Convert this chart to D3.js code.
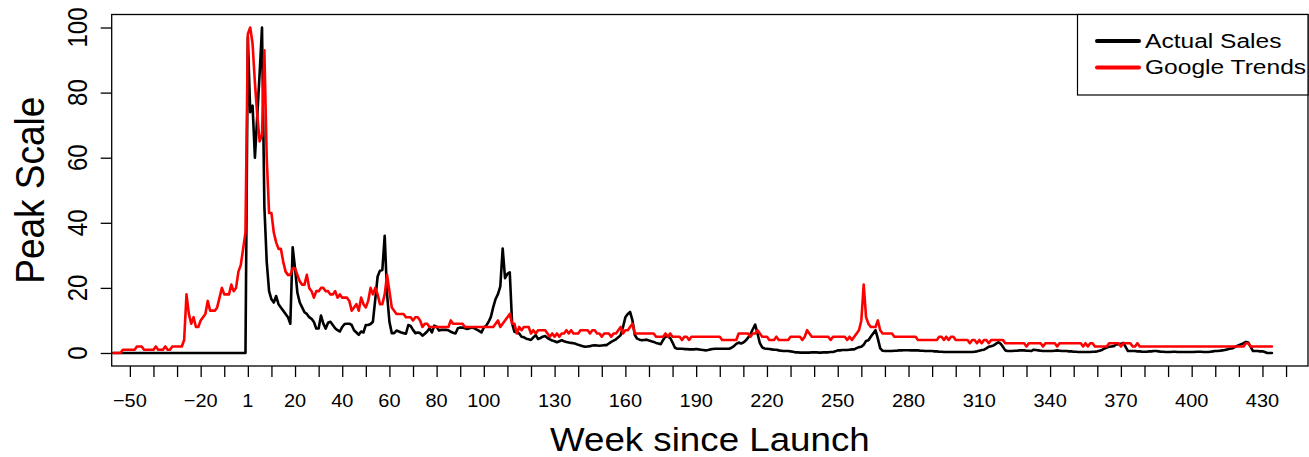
<!DOCTYPE html>
<html>
<head>
<meta charset="utf-8">
<script src="https://cdn.jsdelivr.net/npm/d3@7"></script>
<style>
html, body { margin: 0; padding: 0; background: #ffffff; }
svg { display: block; }
</style>
</head>
<body>
<svg id="chart" width="1309" height="457"></svg>
<script>
// ---------------- data ----------------
const firstWeek = -57;   // week of the first value in each series

const actualSales = [
  0,0,0,0,0,0,0,
  0,0,0,0,0,0,0,0,0,0,
  0,0,0,0,0,0,0,0,0,0,
  0,0,0,0,0,0,0,0,0,0,
  0,0,0,0,0,0,0,0,0,0,
  0,0,0,0,0,0,0,0,0,0,
  97,74,76,60,73,86,100,45,28,19,
  16.5,15.5,17.5,15,14,13,12,11,9,32.5,
  26,18.5,15.5,14,12.5,12,11,10.5,9.5,7.5,
  7.5,11.5,9,7.5,9.3,9.6,8.6,7.6,7,6.6,
  8,8.9,9,9,8.6,7,6.3,5.6,6.6,6.3,
  8.6,8.6,8.9,9.6,16.5,23.5,25.3,25.5,36,18,
  9.6,6.1,6.1,6.9,6.6,6.3,6.1,5.9,8.6,8.3,
  7.1,6.1,6.3,6.1,5.3,5.9,6.6,7.6,6.3,8.4,
  8.1,6.9,7.1,7.1,7.1,7,6.5,6.2,6,7.6,
  7.8,7.8,7.6,7.4,7.6,7.8,7.6,7.2,6.8,6.3,
  7.8,8.4,9.5,11.1,14.1,16.6,18.1,20.5,32.1,23,
  24.3,24.8,9,6.5,6.3,6,5,4.8,4.4,4.2,
  4,4.8,5.5,4.3,4.6,5,5.2,4.6,4.2,3.8,
  3.6,3.3,3.6,3.9,3.6,3.4,3.2,3.1,3,2.8,
  2.5,2.3,2.1,1.9,2,2.1,2.3,2.4,2.3,2.2,
  2.3,2.4,2.4,2.9,3.4,3.8,4.2,4.8,5.5,8,
  11,12,12.6,10,5.5,4.4,4.1,3.9,4,4.1,
  3.8,3.6,3.4,3.1,2.9,2.7,4,5.1,5,4.6,
  3.2,1.6,1.3,1.3,1.3,1.2,1.2,1.1,1.1,1.1,
  1.2,1.1,1,0.9,0.8,0.9,1.1,1.2,1.3,1.3,
  1.3,1.3,1.3,1.3,1.3,1.6,2.1,2.8,3.2,2.9,
  3.2,3.8,4.7,5.8,7.3,8.7,6,3,1.7,1.4,
  1.3,1.2,1.1,1,1,0.8,0.7,0.6,0.6,0.6,
  0.5,0.4,0.2,0.2,0.1,0.1,0.1,0.1,0.1,0.2,
  0.2,0.2,0.1,0.1,0.2,0.2,0.2,0.3,0.3,0.5,
  0.8,0.8,0.9,0.9,0.9,1,1.1,1.1,1.5,1.8,
  1.9,2.5,3.7,3.9,5,6,7,4.4,1.4,0.7,
  0.6,0.6,0.6,0.6,0.7,0.7,0.8,0.8,0.85,0.85,
  0.85,0.8,0.8,0.8,0.8,0.7,0.7,0.6,0.6,0.6,
  0.6,0.5,0.5,0.4,0.4,0.3,0.3,0.3,0.3,0.3,
  0.3,0.3,0.3,0.3,0.3,0.3,0.3,0.3,0.4,0.5,
  0.7,0.9,1,1.4,1.9,2.1,2.3,2.8,3.3,2.9,
  1.9,0.8,0.6,0.6,0.6,0.7,0.7,0.8,0.8,0.8,
  0.7,0.7,0.6,1,0.9,0.8,0.7,0.6,0.6,0.6,
  0.6,0.6,0.7,0.8,0.7,0.6,0.6,0.6,0.5,0.5,
  0.4,0.4,0.3,0.3,0.3,0.3,0.3,0.3,0.4,0.4,
  0.5,0.7,0.9,1.4,1.7,1.9,2,2.1,2.6,2.7,
  2.8,3.1,1.9,0.6,0.6,0.6,0.6,0.5,0.5,0.4,
  0.4,0.4,0.5,0.5,0.6,0.6,0.5,0.4,0.4,0.3,
  0.3,0.3,0.4,0.4,0.3,0.3,0.3,0.3,0.3,0.3,
  0.3,0.3,0.4,0.4,0.4,0.3,0.3,0.3,0.4,0.5,
  0.6,0.6,0.7,0.8,0.9,1.1,1.3,1.4,1.7,2.1,
  2.4,2.7,3,3.4,3.2,1.9,0.6,0.6,0.6,0.5,
  0.5,0.3,0,0,0
];

const googleTrends = [
  0,0,0,0,1,1,1,
  1,1,1,2,2,2,1,1,1,1,
  1,2,1,1,1,2,1,1,2,2,
  2,2,2,4,18,12,9,11,8,8,
  10,11,12,16,13,13,13,14,17,20,
  18,18,18,21,19,20,25,27,32,37,
  98,100,95,83,73,65,67,93,60,43,
  43,37,34,32,32,28,25,24,24,26,
  26,24,22,21,21,24,20,19,17,19,
  19,20,20,19,19,18,18,19,17,18,
  17,17,17,16,13,14,15,13,17,15,
  14,16,20,18,20,18,15,15,18,24,
  19,14,13,12,12,12,12,11,11,11,
  10,11,11,10,8,9,9,8,8,8,
  8,8,8,8,8,8,10,9,9,9,
  9,9,8,8,8,8,8,8,8,8,
  8,8,8,8,8,9,10,8,9,10,
  11,12,9,9,6,8,7,8,8,8,
  6,7,6,7,7,7,7,6,5,6,
  5,6,5,6,6,7,6,7,6,6,
  6,7,7,7,7,6,7,7,6,6,
  5,6,6,6,5,6,6,7,8,6,
  7,7,8,9,6,6,6,6,6,6,
  6,6,6,5,5,5,5,6,5,6,
  5,5,5,5,4,5,5,4,5,5,
  5,5,5,5,5,5,5,5,5,5,
  5,4,4,4,4,4,4,4,6,6,
  6,6,6,5,6,6,7,6,5,5,
  5,4,4,4,5,4,4,4,4,4,
  5,5,5,5,5,4,5,7,6,5,
  5,5,5,5,5,5,5,4,5,5,
  5,5,5,5,4,5,4,5,6,7,
  10,21,11,9,8,8,8,10,7,6,
  6,6,6,6,5,5,5,5,5,5,
  5,5,5,5,4,4,4,4,4,4,
  4,4,4,5,5,4,5,4,5,5,
  4,4,4,4,4,4,3,4,4,3,
  4,3,4,4,3,4,4,4,4,4,
  4,3,3,3,3,3,3,3,3,3,
  2,3,3,3,3,3,3,2,3,3,
  3,3,3,2,3,3,3,3,3,3,
  3,3,3,3,2,3,2,3,3,2,
  2,2,2,2,2,3,3,3,3,3,
  2,3,3,3,3,2,2,3,2,2,
  2,2,2,2,2,2,2,2,2,2,
  2,2,2,2,2,2,2,2,2,2,
  2,2,2,2,2,2,2,2,2,2,
  2,2,2,2,2,2,2,2,2,2,
  2,2,2,3,3,2,2,2,2,2,
  2,2,2,2,2
];

const xTickWeeks = [-50,-40,-30,-20,-10,0,10,20,30,40,50,60,70,80,90,100,110,120,130,140,150,160,170,180,190,200,210,220,230,240,250,260,270,280,290,300,310,320,330,340,350,360,370,380,390,400,410,420,430,440];
const xLabelWeeks = [-50,-20,0,20,40,60,80,100,130,160,190,220,250,280,310,340,370,400,430];
const xLabelTexts = ["\u221250","\u221220","1","20","40","60","80","100","130","160","190","220","250","280","310","340","370","400","430"];
const yTickValues = [0,20,40,60,80,100];
const seriesNames = ["Actual Sales","Google Trends"];
const seriesColors = ["#000000","#ff0000"];
const xTitle = "Week since Launch";
const yTitle = "Peak Scale";

// ---------------- drawing ----------------
const svg = d3.select("#chart");
const FONT = "'Liberation Sans', Arial, Helvetica, sans-serif";
svg.append("rect").attr("width",1309).attr("height",457).attr("fill","#ffffff");

const plot = {left:111.7, right:1308, top:14.5, bottom:366};
const x = d3.scaleLinear().domain([-57.7, 449.3]).range([plot.left, plot.right]);
const y = d3.scaleLinear().domain([-4, 104]).range([plot.bottom, plot.top]);

// series
const line = d3.line()
  .x((d,i) => x(firstWeek + i))
  .y(d => y(d));

svg.append("path").datum(actualSales)
  .attr("d", line).attr("fill","none")
  .attr("stroke", seriesColors[0]).attr("stroke-width",2.6)
  .attr("stroke-linejoin","round").attr("stroke-linecap","round");
svg.append("path").datum(googleTrends)
  .attr("d", line).attr("fill","none")
  .attr("stroke", seriesColors[1]).attr("stroke-width",2.6)
  .attr("stroke-linejoin","round").attr("stroke-linecap","round");

// plot box
svg.append("rect")
  .attr("x", plot.left).attr("y", plot.top)
  .attr("width", plot.right - plot.left).attr("height", plot.bottom - plot.top)
  .attr("fill","none").attr("stroke","#000").attr("stroke-width",1.3);

// x axis ticks
const xAxis = d3.axisBottom(x).tickValues(xTickWeeks).tickSize(11).tickFormat("");
const gx = svg.append("g").attr("transform", `translate(0,${plot.bottom})`).call(xAxis);
gx.select(".domain").remove();
gx.selectAll(".tick line").attr("stroke","#000").attr("stroke-width",1.3);

svg.append("g").selectAll("text")
  .data(xLabelWeeks)
  .join("text")
  .attr("transform", d => `translate(${x(d)},407) scale(1.05,1)`)
  .attr("text-anchor","middle")
  .attr("font-family", FONT).attr("font-size", 19)
  .attr("fill","#000")
  .text((d,i) => xLabelTexts[i]);

// y axis ticks
const yAxis = d3.axisLeft(y).tickValues(yTickValues).tickSize(11).tickFormat("");
const gy = svg.append("g").attr("transform", `translate(${plot.left},0)`).call(yAxis);
gy.select(".domain").remove();
gy.selectAll(".tick line").attr("stroke","#000").attr("stroke-width",1.3);

svg.append("g").selectAll("text")
  .data(yTickValues)
  .join("text")
  .attr("transform", d => `translate(87,${y(d)}) scale(1.15,1) rotate(-90)`)
  .attr("text-anchor","middle")
  .attr("font-family", FONT).attr("font-size", 24)
  .attr("fill","#000")
  .text(d => d);

// axis titles
svg.append("text")
  .attr("transform", `translate(${(plot.left+plot.right)/2},451) scale(1.08,1)`)
  .attr("text-anchor","middle")
  .attr("font-family", FONT).attr("font-size", 34)
  .attr("fill","#000")
  .text(xTitle);

svg.append("text")
  .attr("transform", `translate(44,${(plot.top+plot.bottom)/2}) scale(1.12,1) rotate(-90)`)
  .attr("text-anchor","middle")
  .attr("font-family", FONT).attr("font-size", 37)
  .attr("fill","#000")
  .text(yTitle);

// legend
const lg = svg.append("g");
lg.append("rect")
  .attr("x",1077.5).attr("y",plot.top).attr("width",1308-1077.5).attr("height",95-plot.top)
  .attr("fill","#ffffff").attr("stroke","#000").attr("stroke-width",1.2);
const legendRows = [41, 67.5];
seriesNames.forEach((name, i) => {
  lg.append("line")
    .attr("x1",1097).attr("x2",1139)
    .attr("y1",legendRows[i]).attr("y2",legendRows[i])
    .attr("stroke",seriesColors[i]).attr("stroke-width",4)
    .attr("stroke-linecap","round");
  lg.append("text")
    .attr("transform", `translate(1145,${legendRows[i]+6.8}) scale(1.17,1)`)
    .attr("font-family", FONT).attr("font-size", 21)
    .attr("fill","#000")
    .text(name);
});
</script>
</body>
</html>
